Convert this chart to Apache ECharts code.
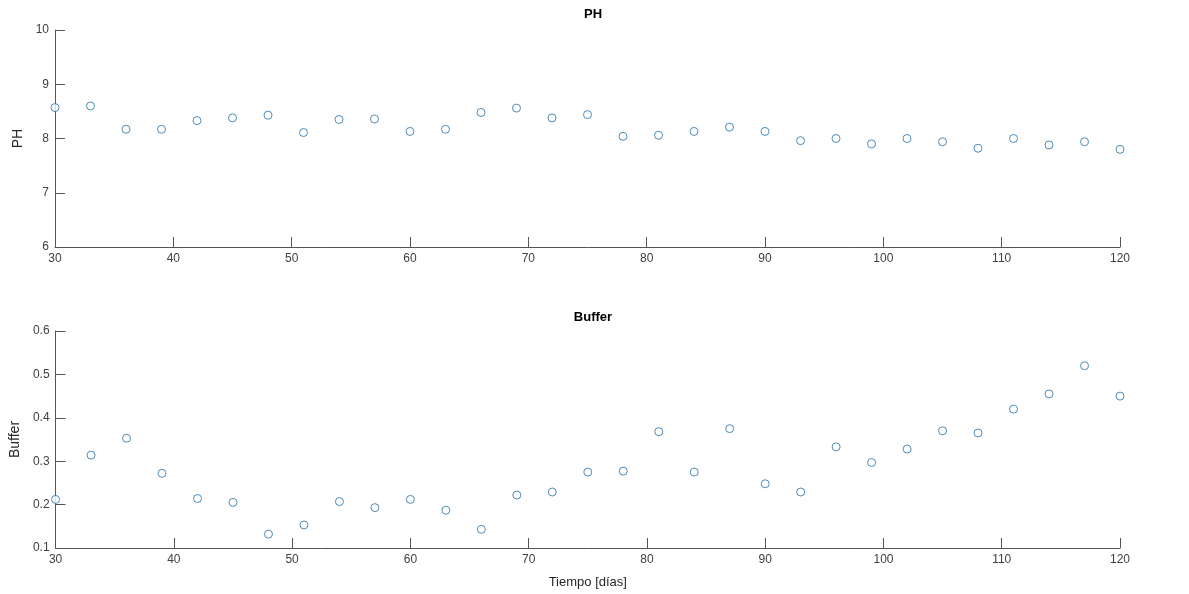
<!DOCTYPE html>
<html>
<head>
<meta charset="utf-8">
<script src="https://cdn.jsdelivr.net/npm/echarts@6/dist/echarts.min.js"></script>
<style>
  html, body { margin: 0; padding: 0; background: #fff; }
  #main { width: 1189px; height: 594px; }
</style>
</head>
<body>
<div id="main"></div>
<script>
// days of measurement
const days = [30, 33, 36, 39, 42, 45, 48, 51, 54, 57, 60, 63, 66, 69, 72, 75,
  78, 81, 84, 87, 90, 93, 96, 99, 102, 105, 108, 111, 114, 117, 120]
const phValues = [8.57, 8.60, 8.17, 8.17, 8.33, 8.38, 8.43, 8.11, 8.35, 8.36, 8.13, 8.17, 8.48, 8.56, 8.38, 8.44,
  8.04, 8.06, 8.13, 8.21, 8.13, 7.96, 8.00, 7.90, 8.00, 7.94, 7.82, 8.00, 7.88, 7.94, 7.80]
const bufferValues = [0.212, 0.314, 0.353, 0.272, 0.214, 0.205, 0.132, 0.153, 0.207, 0.193, 0.212, 0.187, 0.143, 0.222, 0.229, 0.275,
  0.277, 0.368, 0.275, 0.375, 0.248, 0.229, 0.333, 0.297, 0.328, 0.370, 0.365, 0.420, 0.455, 0.520, 0.450]

const font = 'Liberation Sans, Arial, sans-serif'
const axisColor = '#555555'
const labelColor = '#404040'
const markerColor = '#2270a6'

const toPairs = (ys) => days.map((d, i) => [d, ys[i]])

const xAxisBase = {
  type: 'value',
  min: 30,
  max: 120,
  interval: 10,
  axisLine: { lineStyle: { color: axisColor, width: 1 } },
  axisTick: { inside: true, length: 10, lineStyle: { color: axisColor } },
  axisLabel: { color: labelColor, fontFamily: font, fontSize: 12, margin: 6 },
  splitLine: { show: false }
}
const yAxisBase = {
  type: 'value',
  axisLine: { show: true, lineStyle: { color: axisColor, width: 1 } },
  axisTick: { show: true, inside: true, length: 10, lineStyle: { color: axisColor } },
  axisLabel: { color: labelColor, fontFamily: font, fontSize: 12, margin: 6 },
  splitLine: { show: false },
  nameLocation: 'middle',
  nameTextStyle: { color: '#262626', fontFamily: font, fontSize: 14 }
}

const markerStyle = { color: '#ffffff', borderColor: markerColor, borderWidth: 1 }

const myChart = echarts.init(document.getElementById('main'))

const option = {
  animation: false,
  backgroundColor: '#fff',
  title: [
    { text: 'PH', left: 588, top: 3, textAlign: 'center',
      textStyle: { fontFamily: font, fontSize: 13, fontWeight: 'bold', color: '#000' } },
    { text: 'Buffer', left: 588, top: 306, textAlign: 'center',
      textStyle: { fontFamily: font, fontSize: 13, fontWeight: 'bold', color: '#000' } }
  ],
  grid: [
    { left: 55, right: 69, top: 30, height: 217 },
    { left: 55, right: 69, top: 331, height: 217 }
  ],
  xAxis: [
    Object.assign({}, xAxisBase, { gridIndex: 0 }),
    Object.assign({}, xAxisBase, {
      gridIndex: 1,
      name: 'Tiempo [días]',
      nameLocation: 'middle',
      nameGap: 28,
      nameTextStyle: { color: '#262626', fontFamily: font, fontSize: 13 }
    })
  ],
  yAxis: [
    Object.assign({}, yAxisBase, { gridIndex: 0, min: 6, max: 10, interval: 1, name: 'PH', nameGap: 28 }),
    Object.assign({}, yAxisBase, {
      gridIndex: 1, min: 0.1, max: 0.6, interval: 0.1, name: 'Buffer', nameGap: 32,
      axisLabel: Object.assign({}, yAxisBase.axisLabel, { formatter: (v) => v.toFixed(1) })
    })
  ],
  series: [
    {
      name: 'PH',
      type: 'scatter',
      xAxisIndex: 0,
      yAxisIndex: 0,
      symbol: 'circle',
      symbolSize: 8,
      itemStyle: markerStyle,
      data: toPairs(phValues)
    },
    {
      name: 'Buffer',
      type: 'scatter',
      xAxisIndex: 1,
      yAxisIndex: 1,
      symbol: 'circle',
      symbolSize: 8,
      itemStyle: markerStyle,
      data: toPairs(bufferValues)
    }
  ]
}

myChart.setOption(option)
</script>
</body>
</html>
